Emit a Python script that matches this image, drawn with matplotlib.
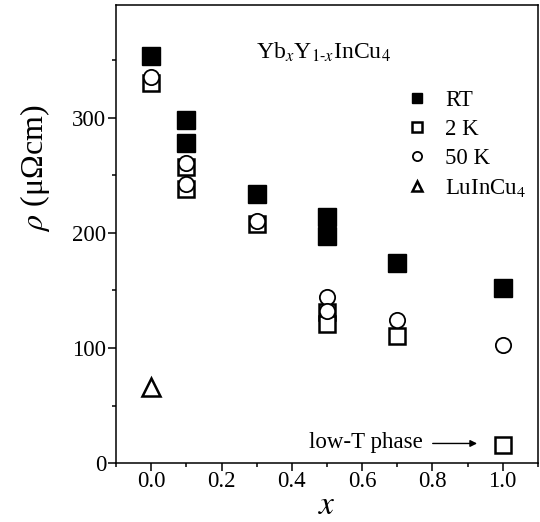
"""Resistivity of Yb_xY_{1-x}InCu4 vs x (RT, 2 K, 50 K) plus LuInCu4."""

import matplotlib
matplotlib.use("Agg")
import matplotlib.pyplot as plt
from matplotlib.ticker import MultipleLocator

plt.rcParams["font.family"] = ["Liberation Serif", "DejaVu Serif"]
plt.rcParams["mathtext.fontset"] = "stix"

# data
x_rt = [0.0, 0.1, 0.1, 0.3, 0.5, 0.5, 0.7, 1.0]
rho_rt = [354, 298, 278, 234, 214, 197, 174, 152]
x_2k = [0.0, 0.1, 0.1, 0.3, 0.5, 0.5, 0.7, 1.0]
rho_2k = [330, 257, 238, 208, 131, 121, 110, 16]
x_50k = [0.0, 0.1, 0.1, 0.3, 0.5, 0.5, 0.7, 1.0]
rho_50k = [336, 261, 243, 210, 144, 132, 124, 103]
x_lu = [0.0]
rho_lu = [66]

fig = plt.figure(figsize=(5.4, 5.22), dpi=100)
ax = fig.add_axes([0.215, 0.113, 0.781, 0.877])

ax.plot(x_rt, rho_rt, "s", ms=12.5, mfc="k", mec="k", mew=1.0, label="RT",
        zorder=3)
ax.plot(x_2k, rho_2k, "s", ms=11, mfc="white", mec="k", mew=1.8,
        label="2 K", zorder=4)
ax.plot(x_50k, rho_50k, "o", ms=11, mfc="white", mec="k", mew=1.3,
        label="50 K", zorder=5)
ax.plot(x_lu, rho_lu, "^", ms=13, mfc="white", mec="k", mew=1.8,
        label="LuInCu$_4$", zorder=5)

ax.set_xlim(-0.1, 1.1)
ax.set_ylim(0, 398)
ax.xaxis.set_major_locator(MultipleLocator(0.2))
ax.xaxis.set_minor_locator(MultipleLocator(0.1))
ax.yaxis.set_major_locator(MultipleLocator(100))
ax.yaxis.set_minor_locator(MultipleLocator(50))
ax.xaxis.set_major_formatter(lambda v, p: f"{v:.1f}")
ax.tick_params(which="both", direction="out", width=1.1, labelsize=16.5,
               pad=1.5)
ax.tick_params(axis="x", pad=0.5)
ax.tick_params(which="major", length=5.5)
ax.tick_params(which="minor", length=3)
for s in ax.spines.values():
    s.set_linewidth(1.1)

ax.set_xlabel("$x$", fontsize=24, labelpad=-1)
ax.set_ylabel(r"$\rho$ (μΩcm)", fontsize=23)
ax.yaxis.set_label_coords(-0.152, 0.644)

ax.text(0.49, 357, r"Yb$_x$Y$_{1\text{-}x}$InCu$_4$", fontsize=17,
        ha="center", va="center")

ax.annotate("", xy=(0.935, 17), xytext=(0.793, 17),
            arrowprops=dict(arrowstyle="-|>", color="k", lw=1.0,
                            mutation_scale=10))
ax.text(0.448, 18, "low-T phase", fontsize=16.5, ha="left", va="center")

ax.legend(loc="upper left", bbox_to_anchor=(0.66, 0.84), frameon=False,
          fontsize=16.5, markerscale=0.6, handlelength=1.0, handletextpad=0.7,
          labelspacing=0.35, borderpad=0)

fig.savefig("out.png", dpi=100)
